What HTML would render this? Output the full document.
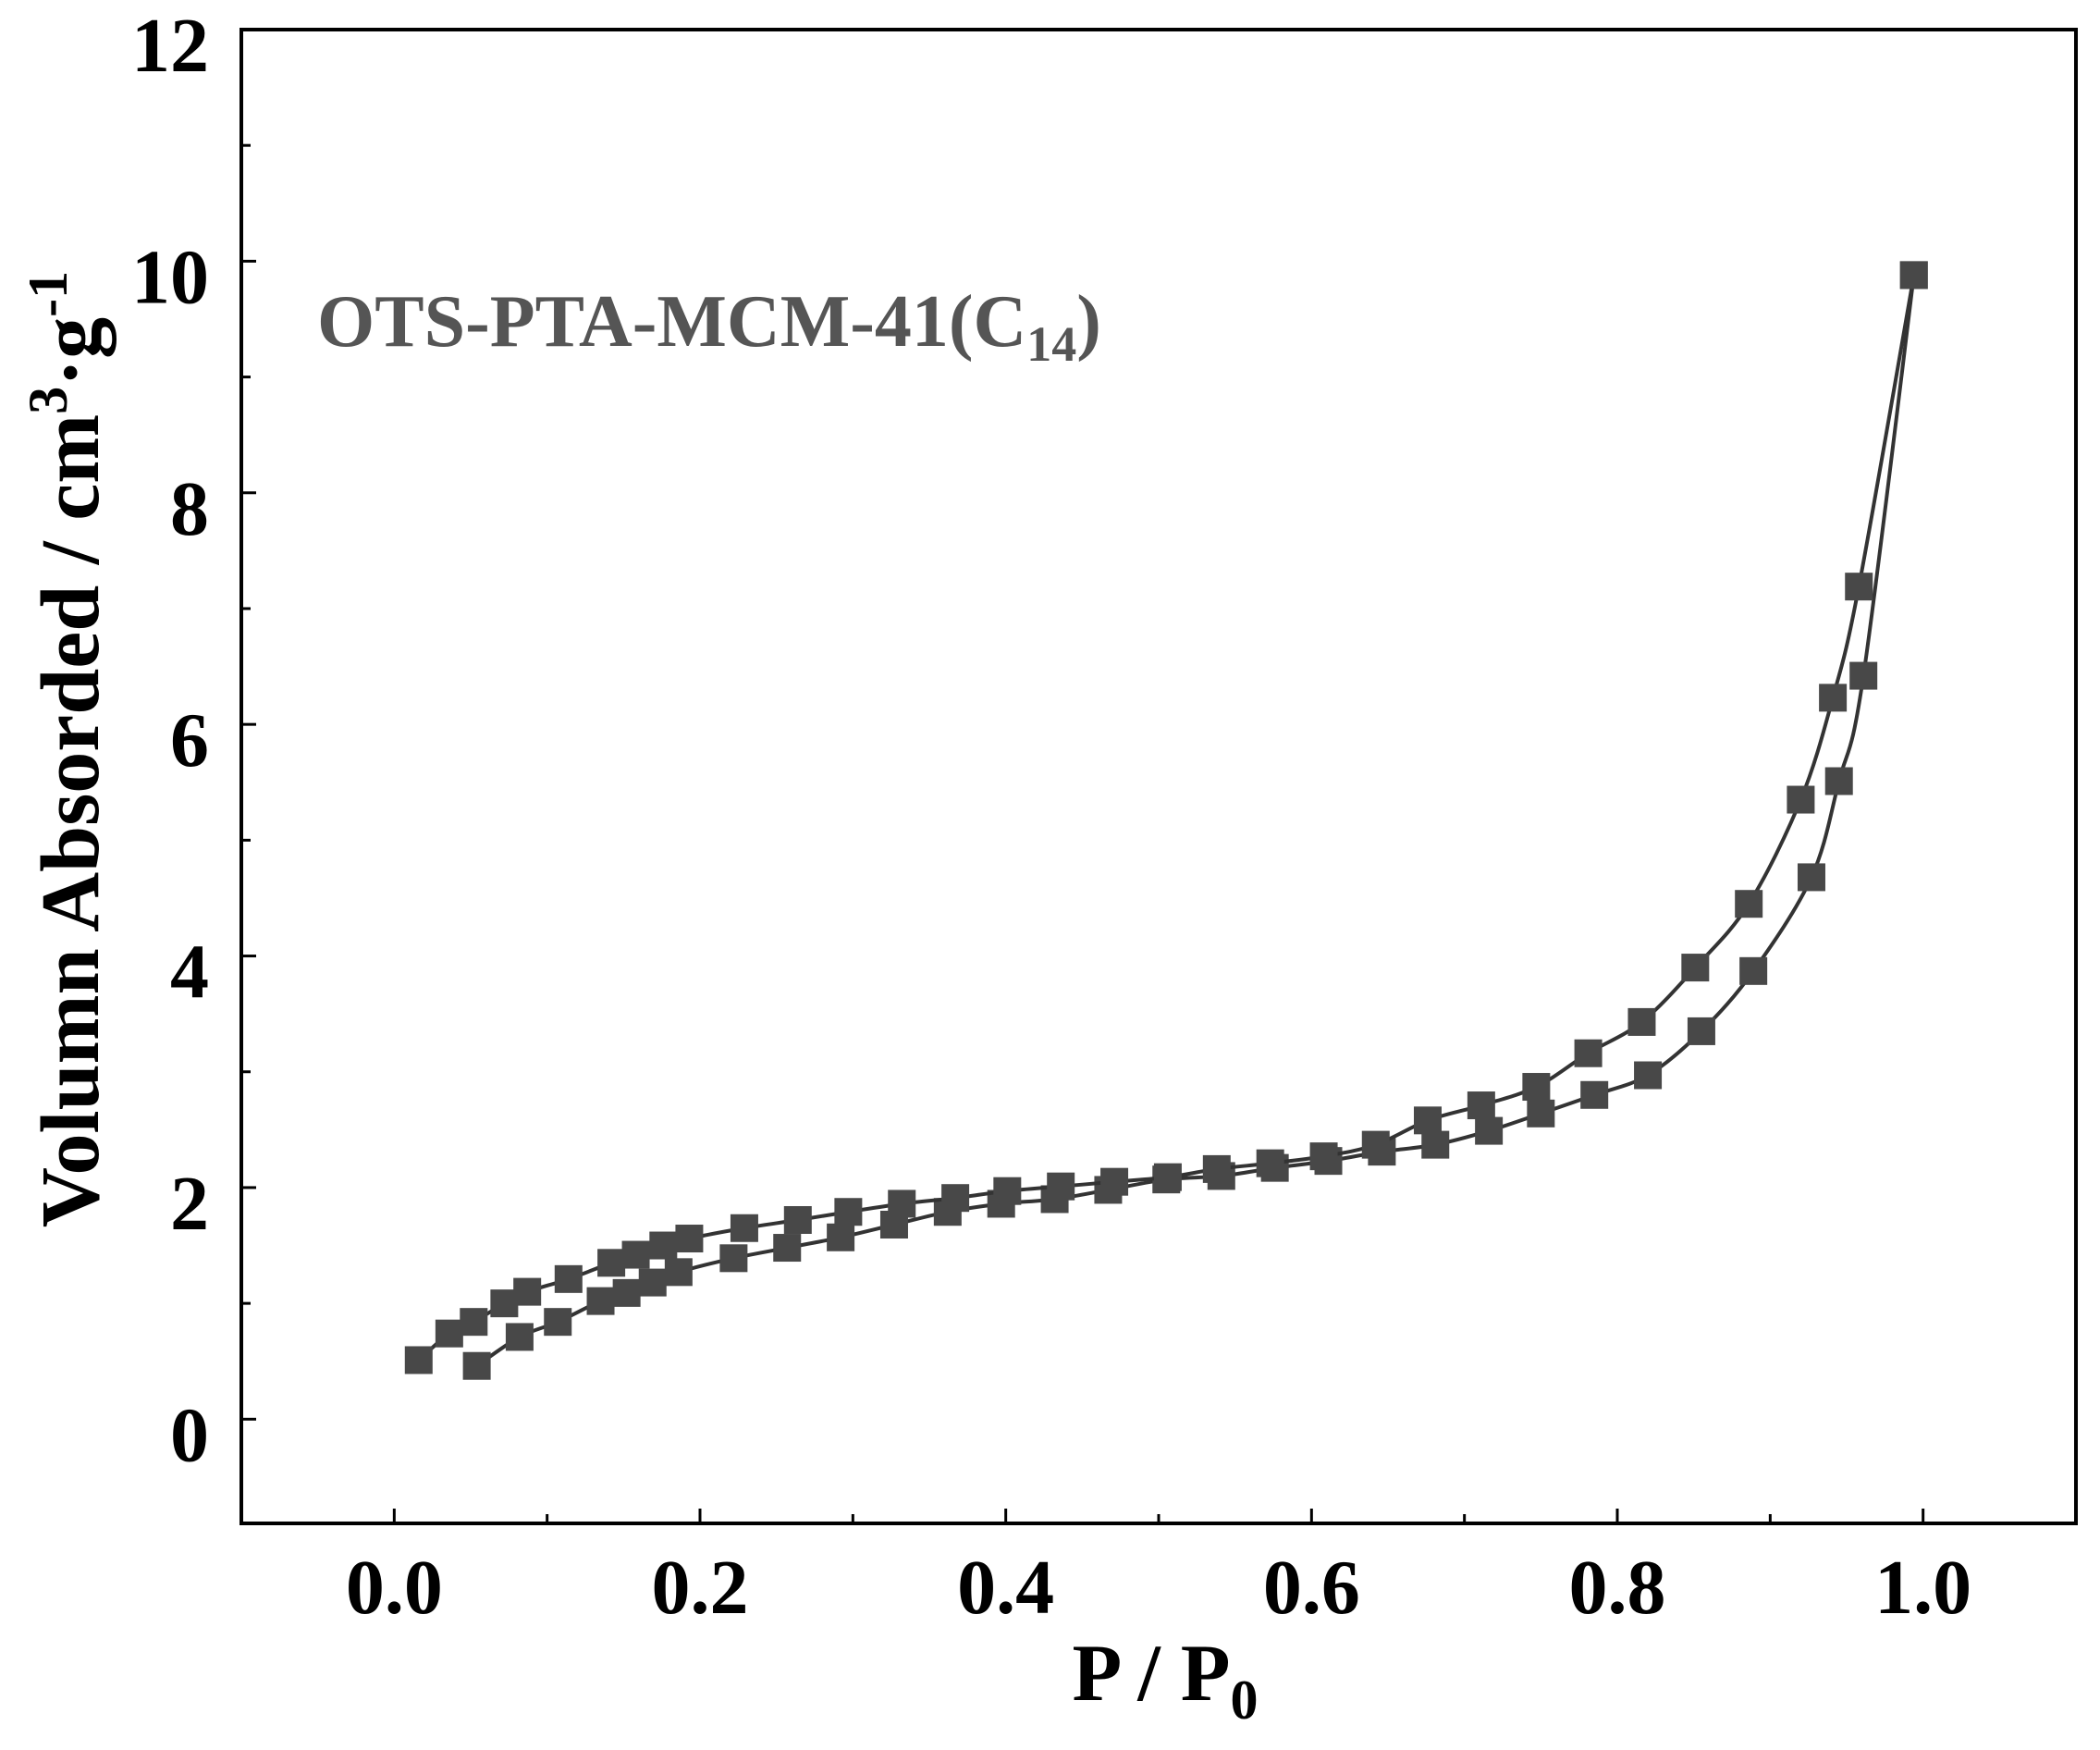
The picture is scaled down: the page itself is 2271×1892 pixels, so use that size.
<!DOCTYPE html>
<html><head><meta charset="utf-8"><style>
html,body{margin:0;padding:0;background:#fff}
svg{display:block}
text{font-family:"Liberation Serif",serif;font-weight:bold}
</style></head><body>
<svg id="chart" width="2271" height="1892" viewBox="0 0 2271 1892" xmlns="http://www.w3.org/2000/svg">
<g id="axes"></g>
<g id="series"></g>
<text x="343" y="374" font-size="80" fill="#555">OTS-PTA-MCM-41(C<tspan font-size="54" dy="16">14</tspan><tspan dy="-16">)</tspan></text>
<text x="1260" y="1838" font-size="88" text-anchor="middle" fill="#000">P / P<tspan font-size="60" dy="20">0</tspan></text>
<text transform="translate(106,810) rotate(-90)" font-size="90" text-anchor="middle" fill="#000">Volumn Absorded / cm<tspan font-size="60" dy="-34">3</tspan><tspan dy="34">·g</tspan><tspan font-size="60" dy="-34">-1</tspan></text>
</svg>
<script>
const xTicks=[0.0,0.2,0.4,0.6,0.8,1.0];
const xTickLabels=["0.0","0.2","0.4","0.6","0.8","1.0"];
const yTicks=[0,2,4,6,8,10,12];
const yTickLabels=["0","2","4","6","8","10","12"];
const desP=[.016,.036,.052,.072,.087,.114,.142,.158,.176,.193,.229,.264,.297,.332,.367,.401,.436,.471,.506,.538,.573,.608,.642,.676,.711,.747,.781,.816,.851,.886,.920,.941,.958,.994];
const desV=[.51,.74,.84,1.0,1.1,1.21,1.35,1.42,1.50,1.56,1.65,1.72,1.79,1.86,1.91,1.97,2.01,2.05,2.09,2.16,2.21,2.27,2.37,2.58,2.71,2.87,3.16,3.43,3.90,4.45,5.35,6.23,7.19,9.88];
const adsP=[.054,.082,.107,.135,.152,.169,.186,.222,.257,.292,.327,.362,.397,.432,.467,.505,.541,.576,.611,.646,.681,.716,.750,.785,.820,.855,.889,.927,.945,.961,.994];
const adsV=[.46,.71,.84,1.02,1.09,1.18,1.27,1.39,1.48,1.57,1.68,1.79,1.86,1.90,1.98,2.07,2.10,2.17,2.23,2.31,2.37,2.49,2.64,2.80,2.97,3.35,3.87,4.68,5.51,6.42,9.88];

const L=261,R=2245,T=32,B=1647,XMIN=-0.1,XMAX=1.1,YMIN=-0.9,YMAX=12;
const sx=v=>L+(v-XMIN)/(XMAX-XMIN)*(R-L);
const sy=v=>B-(v-YMIN)/(YMAX-YMIN)*(B-T);
const NS="http://www.w3.org/2000/svg";
function mk(tag,attrs,parent){const e=document.createElementNS(NS,tag);for(const k in attrs)e.setAttribute(k,attrs[k]);parent.appendChild(e);return e;}
const ax=document.getElementById('axes');
const frame=mk('rect',{x:L,y:T,width:R-L,height:B-T,fill:'none',stroke:'#000','stroke-width':4},ax);


for(let v=0;v<=1.0001;v+=0.1){
  const major=Math.abs(Math.round(v*10)%2)===0;
  const t=mk('line',{x1:sx(v),x2:sx(v),y1:B,y2:B-(major?16:10),stroke:'#000','stroke-width':3},ax);
  
  
}
for(let v=0;v<=12;v+=1){
  const major=v%2===0;
  const t=mk('line',{x1:L,x2:L+(major?16:10),y1:sy(v),y2:sy(v),stroke:'#000','stroke-width':3},ax);
  
  
}
xTicks.forEach((v,i)=>{
  const t=mk('text',{x:sx(v),y:1744,'font-size':84,'text-anchor':'middle',fill:'#000'},ax);
  t.textContent=xTickLabels[i];
  
  
});
yTicks.forEach((v,i)=>{
  const t=mk('text',{x:226,y:sy(v)+45,'font-size':84,'text-anchor':'end',fill:'#000'},ax);
  t.textContent=yTickLabels[i];
  
  
});
const sg=document.getElementById('series');
function smoothPath(pts){
  let d='M'+pts[0][0]+','+pts[0][1];
  for(let i=0;i<pts.length-1;i++){
    const p0=pts[Math.max(0,i-1)],p1=pts[i],p2=pts[i+1],p3=pts[Math.min(pts.length-1,i+2)];
    const c1=[p1[0]+(p2[0]-p0[0])/6,p1[1]+(p2[1]-p0[1])/6];
    const c2=[p2[0]-(p3[0]-p1[0])/6,p2[1]-(p3[1]-p1[1])/6];
    d+=' C'+c1[0]+','+c1[1]+' '+c2[0]+','+c2[1]+' '+p2[0]+','+p2[1];
  }
  return d;
}
function drawSeries(P,V,name){
  const g=mk('g',{},sg);
  
  
  const pts=P.map((p,i)=>[sx(p),sy(V[i])]);
  const pl=mk('path',{d:smoothPath(pts),fill:'none',stroke:'#333','stroke-width':4},g);
  
  
  P.forEach((p,i)=>{
    const r=mk('rect',{x:sx(p)-15,y:sy(V[i])-15,width:30,height:30,fill:'#484848'},g);
    
    
  });
}
drawSeries(adsP,adsV,'adsorption-branch');
drawSeries(desP,desV,'desorption-branch');
</script>
</body></html>
